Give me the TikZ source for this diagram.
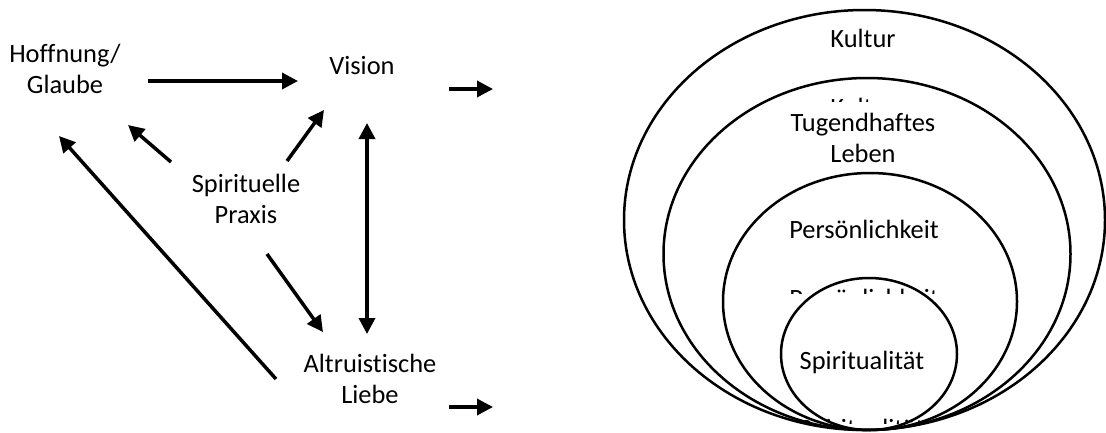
\documentclass[tikz,border=0pt]{standalone}
\usepackage{fontspec}
\setmainfont{Carlito}[Ligatures={NoCommon}]
\usetikzlibrary{arrows.meta}
\begin{document}
\begin{tikzpicture}[x=1pt,y=-1pt,
  lbl/.style={font=\fontsize{26.4}{31}\selectfont, align=center, inner sep=0pt, anchor=base},
  arr/.style={line width=3.5pt, -{Triangle[length=16pt,width=16pt]}},
  darr/.style={line width=3.5pt, {Triangle[length=16pt,width=16pt]}-{Triangle[length=16pt,width=16pt]}},
  ring/.style={draw, line width=2.5pt}]
\useasboundingbox (0,0) rectangle (1106,432);
% rings
\draw[ring] (864.5,220) ellipse [x radius=240.5, y radius=210];
\draw[ring] (867,254) ellipse [x radius=203.5, y radius=176];
\draw[ring] (870,301.5) ellipse [x radius=147, y radius=128.5];
\draw[ring] (869,354) ellipse [x radius=88, y radius=76];
% labels (base anchor = baseline of last line)
\node[lbl] (hope) at (65,93) {Hoffnung/\\Glaube};
\node[lbl] (vision) at (362,74) {Vision};
\node[lbl] (praxis) at (246,223) {Spirituelle\\Praxis};
\node[lbl] (love) at (370,403) {Altruistische\\Liebe};
\node[lbl] (kultur) at (863,47) {Kultur};
\node[lbl] (tugend) at (863,162) {Tugendhaftes\\Leben};
\node[lbl] (pers) at (864,238) {Persönlichkeit};
\node[lbl] (spir) at (862,369) {Spiritualität};
% ghost fragments
\begin{scope}
\clip (780,96) rectangle (950,101.5);
\node[lbl] (ghostk) at (863,116) {Kultur};
\end{scope}
\begin{scope}
\clip (760,286) rectangle (970,293.5);
\node[lbl] (ghostp) at (864,307) {Persönlichkeit};
\end{scope}
\begin{scope}
\clip (780,416) rectangle (950,423.5);
\node[lbl] (ghosts) at (862,437) {Spiritualität};
\end{scope}
% arrow end points
\coordinate (h2vS) at (148,81);  \coordinate (h2vE) at (298,81);
\coordinate (p2hS) at (171,162); \coordinate (p2hE) at (128,125);
\coordinate (p2vS) at (287,161); \coordinate (p2vE) at (324,110);
\coordinate (vlT) at (367,123);  \coordinate (vlB) at (367,334);
\coordinate (p2lS) at (267,254); \coordinate (p2lE) at (323,332);
\coordinate (l2hS) at (276,379); \coordinate (l2hE) at (59,136);
\coordinate (o1S) at (449,89);   \coordinate (o1E) at (493,89);
\coordinate (o2S) at (449,407);  \coordinate (o2E) at (493,407);
% arrows
\draw[arr] (h2vS) -- (h2vE);
\draw[arr] (p2hS) -- (p2hE);
\draw[arr] (p2vS) -- (p2vE);
\draw[darr] (vlT) -- (vlB);
\draw[arr] (p2lS) -- (p2lE);
\draw[arr] (l2hS) -- (l2hE);
\draw[arr] (o1S) -- (o1E);
\draw[arr] (o2S) -- (o2E);
\end{tikzpicture}
\end{document}
